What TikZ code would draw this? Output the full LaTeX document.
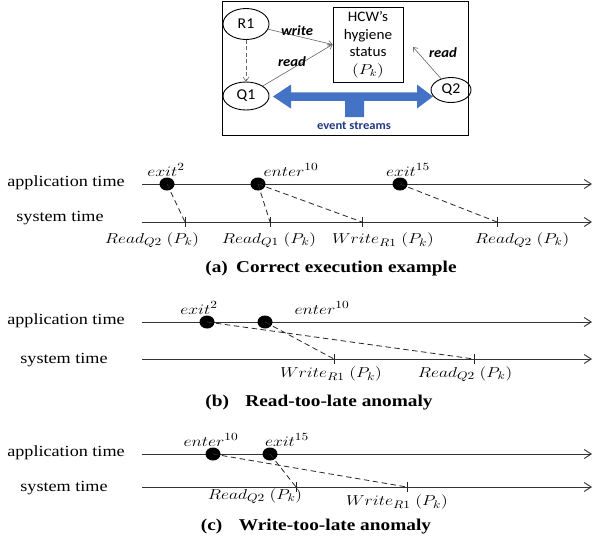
\documentclass[tikz,border=0pt]{standalone}
\usepackage{fontspec}
\usepackage{graphicx}
\usetikzlibrary{arrows.meta,shapes.geometric}
\newfontfamily\serifS[FakeStretch=1.17]{Liberation Serif}
\newfontfamily\sansS[FakeStretch=1.05]{Carlito}
\newcommand{\mlab}[1]{\scalebox{1.22}[1]{$#1$}}
\definecolor{arrblue}{RGB}{68,114,196}
\definecolor{navy}{RGB}{32,56,130}
\begin{document}
\begin{tikzpicture}[x=1pt,y=1pt,
  tline/.style={draw=black!80, line width=0.9pt, -{Straight Barb[length=7pt,width=9pt]}},
  dl/.style={draw=black!85, dash pattern=on 5.5pt off 3.5pt, line width=0.8pt},
  tickln/.style={draw=black!85, line width=0.8pt},
  dotnode/.style={ellipse, fill=black, minimum width=15pt, minimum height=13pt, inner sep=0pt},
  lbl/.style={font=\serifS\fontsize{15.5}{18}\selectfont, inner sep=0pt},
  mlb/.style={font=\fontsize{15}{18}\selectfont, inner sep=0pt},
  captxt/.style={font=\serifS\bfseries\fontsize{16.5}{19}\selectfont, inner sep=0pt},
  ell/.style={ellipse, draw=black, line width=0.9pt, inner sep=0pt, font=\sansS\fontsize{15}{17}\selectfont},
  thinarr/.style={draw=black!60, line width=0.6pt, -{Straight Barb[length=4pt,width=6pt]}},
  blab/.style={font=\sansS\bfseries\itshape\fontsize{14}{16}\selectfont, inner sep=0pt}
]
\useasboundingbox (0,0) rectangle (593,-542);

% ---------- top box ----------
\draw[line width=1pt] (222,-1.5) rectangle (468,-135);
\node[ell, minimum width=46pt, minimum height=31pt] (R1) at (246,-24) {R1};
\node[ell, minimum width=46pt, minimum height=28pt] (Q1) at (246,-96) {Q1};
\node[ell, minimum width=40pt, minimum height=25pt] (Q2) at (451,-90) {Q2};
\node[draw=black, line width=0.9pt, minimum width=70pt, minimum height=75pt, align=center,
      inner sep=0pt, font=\sansS\fontsize{14.5}{17.5}\selectfont] (hyg) at (368,-44.5)
      {HCW’s\\hygiene\\status\\\mlab{(P_k)}};
\coordinate (q2t) at (413,-47);
\draw[thinarr] (R1) -- (hyg.west);
\draw[thinarr] (Q1) -- (hyg.west);
\draw[thinarr] (Q2) -- (q2t);
\draw[thinarr, dash pattern=on 4pt off 2.5pt] (R1) -- (Q1);
\node[blab] (lw) at (297,-31) {write};
\node[blab] (lr1) at (292,-62) {read};
\node[blab] (lr2) at (443,-53) {read};
\fill[arrblue] (273,-96.5) -- (291,-84.5) -- (291,-92.3) -- (417,-92.3) -- (417,-84.5)
  -- (433,-96.5) -- (417,-108.5) -- (417,-100.8) -- (364,-100.8) -- (364,-117)
  -- (345,-117) -- (345,-100.8) -- (291,-100.8) -- (291,-108.5) -- cycle;
\node[font=\sansS\bfseries\fontsize{12}{14}\selectfont, text=navy, inner sep=0pt] (es) at (354,-126) {event streams};

% ---------- (a) ----------
\node[lbl] (appa) at (66,-183) {application time};
\node[lbl] (sysa) at (60,-218) {system time};
\coordinate (a0) at (142,-184); \coordinate (a9) at (592,-184);
\coordinate (s0) at (142,-222); \coordinate (s9) at (592,-222);
\draw[tline] (a0) -- (a9);
\draw[tline] (s0) -- (s9);
\node[dotnode] (a1) at (167,-184) {};
\node[dotnode] (a2) at (258,-184) {};
\node[dotnode] (a3) at (400,-184) {};
\node[mlb] (ea1) at (166,-170) {\mlab{exit^2}};
\node[mlb] (ea2) at (291,-170) {\mlab{enter^{10}}};
\node[mlb] (ea3) at (408,-170) {\mlab{exit^{15}}};
\coordinate (ta1) at (185,-222); \coordinate (ta2) at (270,-222);
\coordinate (ta3) at (362,-222); \coordinate (ta4) at (497,-222);
\foreach \t in {ta1,ta2,ta3,ta4} \draw[tickln] ([yshift=5pt]\t) -- ([yshift=-5pt]\t);
\draw[dl] (a1.center) -- (ta1);
\draw[dl] (a2.center) -- (ta2);
\draw[dl] (a2.center) -- (ta3);
\draw[dl] (a3.center) -- (ta4);
\node[mlb] (la1) at (152,-240) {\mlab{Read_{Q2}\;(P_k)}};
\node[mlb] (la2) at (269,-240) {\mlab{Read_{Q1}\;(P_k)}};
\node[mlb] (la3) at (383,-240) {\mlab{Write_{R1}\;(P_k)}};
\node[mlb] (la4) at (522,-240) {\mlab{Read_{Q2}\;(P_k)}};
\node[captxt] (capa) at (331,-269) {(a)\hspace{0.5em}Correct execution example};

% ---------- (b) ----------
\node[lbl] (appb) at (66,-321) {application time};
\node[lbl] (sysb) at (64,-360) {system time};
\coordinate (b0) at (142,-322); \coordinate (b9) at (592,-322);
\coordinate (sb0) at (142,-359); \coordinate (sb9) at (592,-359);
\draw[tline] (b0) -- (b9);
\draw[tline] (sb0) -- (sb9);
\node[dotnode] (b1) at (207,-322) {};
\node[dotnode] (b2) at (265,-322) {};
\node[mlb] (eb1) at (199,-308) {\mlab{exit^2}};
\node[mlb] (eb2) at (322,-308) {\mlab{enter^{10}}};
\coordinate (tb1) at (334,-359); \coordinate (tb2) at (474,-359);
\foreach \t in {tb1,tb2} \draw[tickln] ([yshift=5pt]\t) -- ([yshift=-5pt]\t);
\draw[dl] (b1.center) -- (tb2);
\draw[dl] (b2.center) -- (tb1);
\node[mlb] (lb1) at (331,-374) {\mlab{Write_{R1}\;(P_k)}};
\node[mlb] (lb2) at (465,-374) {\mlab{Read_{Q2}\;(P_k)}};
\node[captxt] (capb) at (319,-403) {(b)\hspace{1em}Read-too-late anomaly};

% ---------- (c) ----------
\node[lbl] (appc) at (66,-453) {application time};
\node[lbl] (sysc) at (64,-488) {system time};
\coordinate (c0) at (142,-454); \coordinate (c9) at (592,-454);
\coordinate (sc0) at (142,-487); \coordinate (sc9) at (592,-487);
\draw[tline] (c0) -- (c9);
\draw[tline] (sc0) -- (sc9);
\node[dotnode] (c1) at (213,-454) {};
\node[dotnode] (c2) at (270,-454) {};
\node[mlb] (ec1) at (211,-440) {\mlab{enter^{10}}};
\node[mlb] (ec2) at (287,-440) {\mlab{exit^{15}}};
\coordinate (tc1) at (296,-487); \coordinate (tc2) at (407,-487);
\foreach \t in {tc1,tc2} \draw[tickln] ([yshift=5pt]\t) -- ([yshift=-5pt]\t);
\draw[dl] (c1.center) -- (tc2);
\draw[dl] (c2.center) -- (tc1);
\node[mlb] (lc1) at (255,-496) {\mlab{Read_{Q2}\;(P_k)}};
\node[mlb] (lc2) at (397,-502) {\mlab{Write_{R1}\;(P_k)}};
\node[captxt] (capc) at (316,-527) {(c)\hspace{1em}Write-too-late anomaly};
\end{tikzpicture}
\end{document}
